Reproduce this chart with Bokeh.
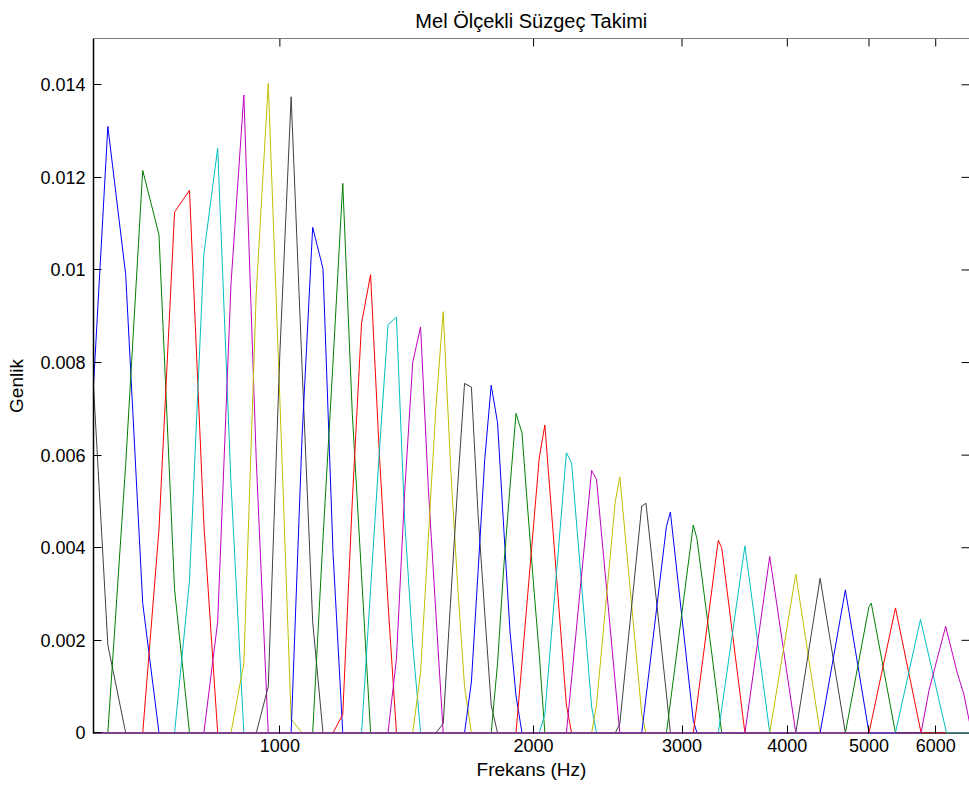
import math
from bokeh.plotting import figure
from bokeh.models import (FixedTicker, NumeralTickFormatter, Range1d, ColumnDataSource, Span)
from bokeh.embed import file_html
from bokeh.resources import INLINE

# ---------------- data ----------------
TITLE = "Mel Ölçekli Süzgeç Takimi"
X_LABEL = "Frekans (Hz)"
Y_LABEL = "Genlik"

X_TICKS = [1000, 2000, 3000, 4000, 5000, 6000]
Y_TICKS = [0, 0.002, 0.004, 0.006, 0.008, 0.010, 0.012, 0.014]
Y_TICK_LABELS = ["0", "0.002", "0.004", "0.006", "0.008", "0.01", "0.012", "0.014"]

X_VIEW = (601, 6580)          # visible frequency window (Hz)
Y_VIEW = (0, 0.015)           # visible amplitude window
SPECTRUM_EDGES = (593.75, 6812.5)   # first / last analysis frequency (zero tails)

# MATLAB colour order, the first visible filter is the 7th (dark grey) line
COLOR_ORDER = ["#404040", "#0000ff", "#008000", "#ff0000", "#00bfbf", "#bf00bf", "#bfbf00"]

FILTER_HZ = [
    [601, 625, 656.25],
    [601, 625, 656.25, 687.5, 718.75],
    [625, 656.25, 687.5, 718.75, 750, 781.25],
    [687.5, 718.75, 750, 781.25, 812.5, 843.75],
    [750, 781.25, 812.5, 843.75, 875, 906.25],
    [812.5, 843.75, 875, 906.25, 937.5, 968.75],
    [875, 906.25, 937.5, 968.75, 1000, 1031.25, 1062.5],
    [937.5, 968.75, 1000, 1031.25, 1062.5, 1093.75, 1125],
    [1031.25, 1062.5, 1093.75, 1125, 1156.25, 1187.5],
    [1093.75, 1125, 1156.25, 1187.5, 1218.75, 1250, 1281.25],
    [1156.25, 1187.5, 1218.75, 1250, 1281.25, 1312.5, 1343.75, 1375],
    [1250, 1281.25, 1312.5, 1343.75, 1375, 1406.25, 1437.5, 1468.75],
    [1343.75, 1375, 1406.25, 1437.5, 1468.75, 1500, 1531.25, 1562.5],
    [1437.5, 1468.75, 1500, 1531.25, 1562.5, 1593.75, 1625, 1656.25, 1687.5],
    [1531.25, 1562.5, 1593.75, 1625, 1656.25, 1687.5, 1718.75, 1750, 1781.25, 1812.5],
    [1656.25, 1687.5, 1718.75, 1750, 1781.25, 1812.5, 1843.75, 1875, 1906.25, 1937.5],
    [1781.25, 1812.5, 1843.75, 1875, 1906.25, 1937.5, 1968.75, 2000, 2031.25, 2062.5],
    [1906.25, 2031.25, 2062.5, 2187.5, 2218.75],
    [2031.25, 2062.5, 2187.5, 2218.75, 2343.75, 2375],
    [2187.5, 2343.75, 2375, 2531.25],
    [2343.75, 2375, 2500, 2531.25, 2687.5, 2718.75],
    [2500, 2531.25, 2687.5, 2718.75, 2875, 2906.25],
    [2687.5, 2875, 2906.25, 3093.75, 3125],
    [2875, 3093.75, 3125, 3250, 3343.75],
    [3093.75, 3312.5, 3343.75, 3562.5],
    [3312.5, 3562.5, 3812.5],
    [3562.5, 3812.5, 4093.75],
    [3812.5, 4093.75, 4375],
    [4093.75, 4375, 4687.5],
    [4375, 4687.5, 5000],
    [4687.5, 5000, 5031.25, 5375],
    [5000, 5375, 5765],
    [5375, 5755, 6180],
    [5765, 5888, 6024, 6165, 6363, 6478, 6580, 6610],
]

FILTER_GAIN = [
    [0.0075, 0.0019, 0],
    [0.0075, 0.0131, 0.0099, 0.0028, 0],
    [0, 0.0058, 0.01215, 0.01076, 0.0031, 0],
    [0, 0.0044, 0.01125, 0.01172, 0.0045, 0],
    [0, 0.0033, 0.01034, 0.01263, 0.0054, 0],
    [0, 0.0024, 0.0097, 0.01378, 0.0059, 0],
    [0, 0.0015, 0.0095, 0.01403, 0.0072, 0.0003, 0],
    [0, 0.0010, 0.0082, 0.01374, 0.0079, 0.0024, 0],
    [0, 0.0064, 0.01092, 0.01003, 0.0039, 0],
    [0, 0.0042, 0.0080, 0.01187, 0.0069, 0.0034, 0],
    [0, 0.0004, 0.0050, 0.00885, 0.0099, 0.0060, 0.0028, 0],
    [0, 0.0031, 0.0061, 0.00882, 0.00898, 0.0046, 0.0019, 0],
    [0, 0.0016, 0.0052, 0.0080, 0.00877, 0.0053, 0.0026, 0],
    [0, 0.0013, 0.0042, 0.0070, 0.0091, 0.0058, 0.0032, 0.0010, 0],
    [0, 0.0002, 0.0028, 0.0053, 0.00755, 0.00747, 0.0047, 0.0026, 0.0006, 0],
    [0, 0.0011, 0.0035, 0.0059, 0.00751, 0.0067, 0.0044, 0.0022, 0.0008, 0],
    [0, 0.0015, 0.0036, 0.0053, 0.0069, 0.00648, 0.0048, 0.0032, 0.0017, 0],
    [0, 0.00594, 0.00665, 0.0006, 0],
    [0, 0.0004, 0.00605, 0.00584, 0.00056, 0],
    [0, 0.00567, 0.00548, 0],
    [0, 0.0006, 0.0050, 0.00553, 0.0004, 0],
    [0, 0.0002, 0.0049, 0.00496, 0.00084, 0],
    [0, 0.00446, 0.00477, 0.00027, 0],
    [0, 0.00449, 0.0042, 0.0018, 0],
    [0, 0.00416, 0.0040, 0],
    [0, 0.00404, 0],
    [0, 0.00381, 0],
    [0, 0.00343, 0],
    [0, 0.00334, 0],
    [0, 0.00309, 0],
    [0, 0.00273, 0.0028, 0],
    [0, 0.0027, 0],
    [0, 0.00245, 0],
    [0, 0.0009, 0.0016, 0.0023, 0.0013, 0.00084, 0.00023, 0],
]

# ---------------- figure ----------------
FONT = "Liberation Sans"
W, H = 969, 787
FRAME_LEFT_PX = 93
FRAME_BOTTOM_PX = 54
FRAME_TOP_PX = 38
TICK_PX = 8
frame_h = H - FRAME_TOP_PX - FRAME_BOTTOM_PX
frame_w = W - FRAME_LEFT_PX
y_per_px = (Y_VIEW[1] - Y_VIEW[0]) / frame_h
logx_per_px = math.log10(X_VIEW[1] / X_VIEW[0]) / frame_w

p = figure(width=W, height=H, x_axis_type="log",
           x_range=Range1d(*X_VIEW),
           y_range=Range1d(Y_VIEW[0] - 0.6 * y_per_px, Y_VIEW[1]),
           output_backend="svg", toolbar_location=None,
           min_border_left=FRAME_LEFT_PX, min_border_right=0,
           min_border_top=FRAME_TOP_PX, min_border_bottom=FRAME_BOTTOM_PX)
p.outline_line_color = None
p.xgrid.visible = False
p.ygrid.visible = False
p.background_fill_color = "white"
p.border_fill_color = "white"

p.title.text = TITLE
p.title.align = "center"
p.title.text_font = FONT
p.title.text_font_size = "20px"
p.title.text_font_style = "normal"
p.title.text_color = "black"
p.title.standoff = 13

xt = FixedTicker(ticks=X_TICKS)
yt = FixedTicker(ticks=Y_TICKS)


def style_axis(ax):
    ax.major_tick_in = TICK_PX
    ax.major_tick_out = 0
    ax.minor_tick_line_color = None
    ax.major_tick_line_color = "black"
    ax.axis_line_color = "black"
    ax.major_label_text_font = FONT
    ax.major_label_text_font_size = "18px"
    ax.major_label_text_color = "black"
    ax.axis_label_text_font = FONT
    ax.axis_label_text_font_size = "19px"
    ax.axis_label_text_font_style = "normal"
    ax.axis_label_text_color = "black"


axb = p.below[0]
style_axis(axb)
axb.ticker = xt
axb.formatter = NumeralTickFormatter(format="0")
axb.axis_label = X_LABEL
axb.major_label_standoff = 5
axb.axis_label_standoff = 4
axb.axis_line_color = None

axl = p.left[0]
style_axis(axl)
axl.ticker = yt
axl.major_label_overrides = {t: s for t, s in zip(Y_TICKS, Y_TICK_LABELS)}
axl.axis_label = Y_LABEL
axl.major_label_standoff = 8
axl.axis_label_standoff = 10
axl.axis_line_width = 1.5

# mirrored ticks on the top and right edges of the box (MATLAB style)
top_len = TICK_PX * y_per_px
p.segment(x0=X_TICKS, x1=X_TICKS, y0=[Y_VIEW[1]] * len(X_TICKS),
          y1=[Y_VIEW[1] - top_len] * len(X_TICKS), line_color="black", line_width=1)
right_x0 = X_VIEW[1] / 10 ** (TICK_PX * logx_per_px)
p.segment(x0=[right_x0] * len(Y_TICKS), x1=[X_VIEW[1]] * len(Y_TICKS),
          y0=Y_TICKS, y1=Y_TICKS, line_color="black", line_width=1)
p.add_layout(Span(location=Y_VIEW[1], dimension="width", line_color="black", line_width=1))

for i, (hz, gain) in enumerate(zip(FILTER_HZ, FILTER_GAIN)):
    xs = list(hz)
    ys = list(gain)
    if ys[0] == 0:
        xs = [SPECTRUM_EDGES[0]] + xs
        ys = [0] + ys
    if ys[-1] == 0:
        xs = xs + [SPECTRUM_EDGES[1]]
        ys = ys + [0]
    src = ColumnDataSource(dict(x=xs, y=ys))
    p.line("x", "y", source=src, line_color=COLOR_ORDER[i % len(COLOR_ORDER)],
           line_width=1)

open("out.html", "w").write(file_html(p, INLINE))
